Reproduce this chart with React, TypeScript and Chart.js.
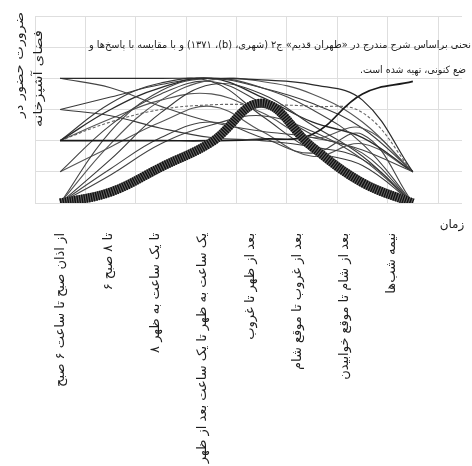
import React, { useEffect, useRef } from 'react';
import { Chart, registerables } from 'chart.js';

Chart.register(...registerables);

// ---------- data ----------
const categories = [
  'از اذان صبح تا ساعت ۶ صبح',
  '۶ تا ۸ صبح',
  '۸ تا یک ساعت به ظهر',
  'یک ساعت به ظهر تا یک ساعت بعد از ظهر',
  'بعد از ظهر تا غروب',
  'بعد از غروب تا موقع شام',
  'بعد از شام تا موقع خوابیدن',
  'نیمه شب‌ها',
];

const mainSeries = [0, 0.35, 1.15, 1.95, 3.2, 1.8, 0.65, 0];

const t1 = [4, 4, 4, 4, 3.95, 3.8, 3.3, 1];
const t2 = [4, 3.7, 3.1, 2.6, 2.3, 2.1, 1.6, 0];
const t3 = [3, 2.8, 2.4, 2.1, 2.0, 1.8, 1.4, 0];
const t4 = [2, 2, 2, 2, 2.05, 2.2, 3.5, 3.9];
const t5 = [0, 2.3, 3.6, 4, 3.7, 3.0, 1.9, 0];
const t6 = [0, 1.9, 3.3, 3.95, 3.9, 3.5, 2.6, 1];
const t7 = [0, 1.4, 2.9, 3.8, 3.5, 2.5, 1.5, 0];
const t8 = [1, 2.5, 3.5, 3.9, 3.2, 2.2, 1.7, 1];
const t9 = [2, 3.0, 3.7, 4, 3.4, 2.6, 2.1, 1];
const t10 = [2, 2.7, 3.3, 3.5, 2.9, 2.1, 2.4, 1];
const t11 = [0, 1.1, 2.1, 2.6, 2.1, 1.6, 2.2, 0];
const t12 = [2, 3.2, 3.85, 3.9, 2.8, 1.7, 1.2, 0];
const t13 = [2, 2.6, 3.0, 3.15, 3.15, 3.1, 2.9, 1];
const t14 = [0, 0.9, 1.9, 2.5, 2.8, 2.3, 1.4, 0];
const t15 = [1, 1.8, 2.6, 3.1, 2.3, 1.5, 1.9, 1];
const t16 = [3, 3.4, 3.8, 4, 3.7, 3.2, 2.4, 1];

const thinSeries = [t1, t2, t3, t4, t5, t6, t7, t8, t9, t10, t11, t12, t13, t14, t15, t16];

const yTitleLines = ['ضرورت حضور در', 'فضای آشپزخانه'];
const xTitle = 'زمان';
const noteLines = [
  'نحنی براساس شرح مندرج در «طهران قدیم» ج۲ (شهری، (b)، ۱۳۷۱) و با مقایسه با پاسخ‌ها و',
  'ضع کنونی، تهیه شده است.',
];

// ---------- styles ----------
const thinColors = ['#2a2a2a', '#444', '#3a3a3a', '#1a1a1a', '#444', '#555', '#3a3a3a', '#444', '#2a2a2a', '#555', '#444', '#3a3a3a', '#666', '#444', '#555', '#3a3a3a'];
const thinWidths = [1.2, 1.1, 1.1, 1.7, 1.1, 1.1, 1.1, 1.1, 1.3, 1.1, 1.1, 1.1, 1.1, 1.1, 1.1, 1.1];
const thinDash = [[], [], [], [], [], [], [], [], [], [], [], [], [3, 2], [], [], []];
const gridColor = '#dedede';
const FONT = '"DejaVu Sans", "Noto Sans", sans-serif';

const textPlugin = {
  id: 'farsiTexts',
  afterDraw(chart: any) {
    const ctx = chart.ctx as CanvasRenderingContext2D;
    ctx.save();
    ctx.fillStyle = '#1e1e1e';
    (ctx as any).direction = 'rtl';
    ctx.textBaseline = 'middle';
    ctx.textAlign = 'right';
    // note lines
    ctx.font = '10px ' + FONT;
    ctx.fillText(noteLines[0], 471, 45, 382);
    ctx.fillText(noteLines[1], 466, 70, 106);
    // x title
    ctx.font = '12px ' + FONT;
    ctx.textAlign = 'center';
    ctx.fillText(xTitle, 452, 225);
    // y title lines (rotated, stretched along the text to the reference length)
    ctx.font = '12px ' + FONT;
    ctx.textAlign = 'right';
    const yPos = [
      [20, 12, 106],
      [39, 30, 97],
    ];
    yTitleLines.forEach((line, i) => {
      const w = ctx.measureText(line).width || 1;
      ctx.save();
      ctx.translate(yPos[i][0], yPos[i][1]);
      ctx.rotate(-Math.PI / 2);
      ctx.scale(yPos[i][2] / w, 1);
      ctx.fillText(line, 0, 0);
      ctx.restore();
    });
    ctx.restore();
  },
};

export default function App() {
  const canvasRef = useRef<HTMLCanvasElement | null>(null);

  useEffect(() => {
    document.body.style.margin = '0';
    const canvas = canvasRef.current;
    if (!canvas) return;

    const toPts = (arr: number[]) => arr.map((v, i) => ({ x: i, y: v }));

    const datasets: any[] = [
      {
        data: toPts(mainSeries),
        borderColor: '#111',
        borderWidth: 9,
        borderDash: [1.4, 1],
        tension: 0.4,
        pointRadius: 0,
      },
      {
        data: toPts(mainSeries),
        borderColor: '#666',
        borderWidth: 9,
        tension: 0.4,
        pointRadius: 0,
      },
      ...thinSeries.map((s, i) => ({
        data: toPts(s),
        borderColor: thinColors[i],
        borderWidth: thinWidths[i],
        borderDash: thinDash[i],
        tension: 0.4,
        pointRadius: 0,
      })),
    ];

    const chart = new Chart(canvas, {
      type: 'line',
      data: { datasets },
      options: {
        animation: false,
        responsive: false,
        layout: { padding: { left: 35, top: 16, right: 10, bottom: 0 } },
        plugins: { legend: { display: false }, tooltip: { enabled: false }, title: { display: false } },
        scales: {
          x: {
            type: 'linear',
            min: -0.5,
            max: 7.976,
            afterBuildTicks: (s: any) => {
              s.ticks = [-0.5, 0.5, 1.5, 2.5, 3.5, 4.5, 5.5, 6.5, 7.5].map((v) => ({ value: v }));
            },
            ticks: { display: false },
            grid: { color: gridColor, drawTicks: false },
            border: { display: false },
          },
          x2: {
            type: 'linear',
            position: 'bottom',
            min: -0.55,
            max: 8.48,
            afterBuildTicks: (s: any) => {
              s.ticks = categories.map((_, i) => ({ value: i }));
            },
            afterFit: (s: any) => {
              s.height = 263;
            },
            ticks: {
              callback: (v: any) => categories[v as number] ?? '',
              minRotation: 90,
              maxRotation: 90,
              autoSkip: false,
              padding: 30,
              color: '#1e1e1e',
              font: { family: FONT, size: 13 },
            },
            grid: { display: false, drawTicks: false },
            border: { display: false },
          },
          y: {
            min: 0,
            max: 6,
            ticks: { display: false, stepSize: 1 },
            grid: { color: gridColor, drawTicks: false },
            border: { display: false },
          },
        },
      },
      plugins: [textPlugin],
    });

    return () => chart.destroy();
  }, []);

  return (
    <div style={{ width: 472, height: 466, overflow: 'hidden', background: '#fff' }}>
      <canvas ref={canvasRef} width={472} height={466} style={{ display: 'block' }} />
    </div>
  );
}
